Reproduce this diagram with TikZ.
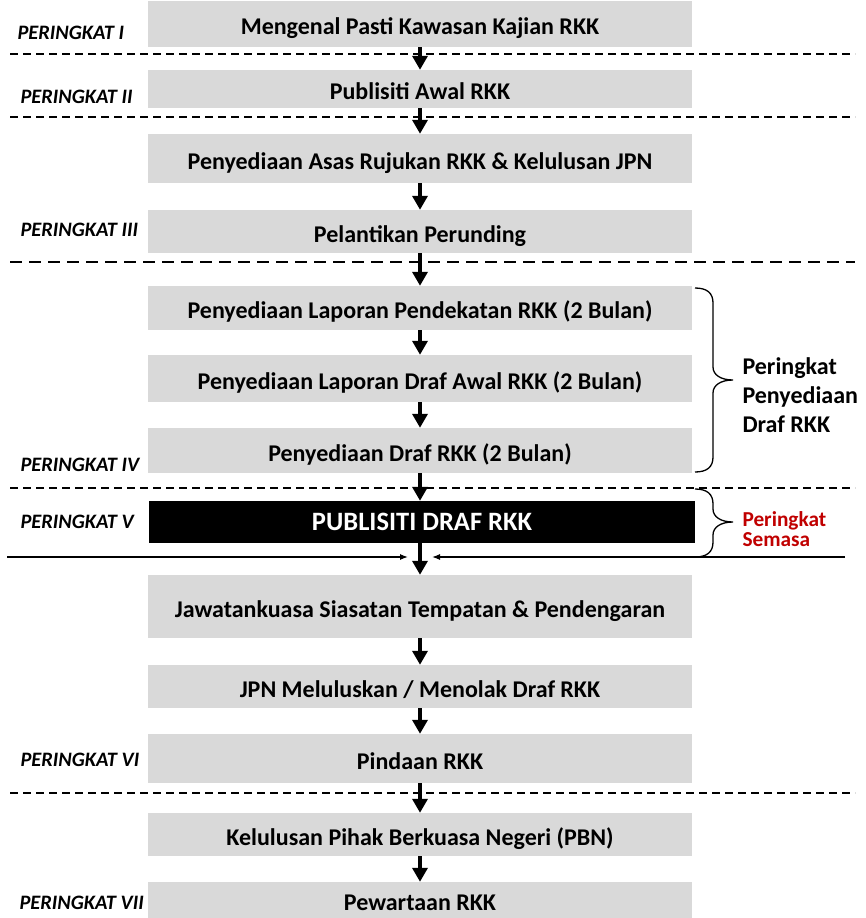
\documentclass[tikz,border=0pt]{standalone}
\usepackage{fontspec}
\setmainfont{Carlito}
\usetikzlibrary{arrows.meta}
\definecolor{boxgray}{RGB}{217,217,217}
\definecolor{semasared}{RGB}{192,0,0}

\newcommand{\sidebrace}[3]{%
  \draw[line width=1.3pt] (695,#1) .. controls (707,#1) and (713,#1+5) .. (713,#1+15) -- (713,#2-13)
    .. controls (713,#2-5) and (721,#2) .. (733,#2) .. controls (721,#2) and (713,#2+5) .. (713,#2+13)
    -- (713,#3-15) .. controls (713,#3-5) and (707,#3) .. (695,#3);}

\begin{document}
\begin{tikzpicture}[x=1pt,y=-1pt,
    stagebox/.style={fill=boxgray, minimum width=544pt, inner sep=0pt, text height=22pt, text depth=1pt,
                     font=\fontsize{24}{26}\selectfont\bfseries},
    lvltext/.style={anchor=west, font=\fontsize{20.5}{22}\selectfont\bfseries\itshape},
    flowarrow/.style={line width=4pt, -{Triangle[width=15pt,length=14pt]}},
    phaseline/.style={line width=1.2pt, dash pattern=on 8pt off 5pt},
    phasebold/.style={line width=2pt, dash pattern=on 12pt off 7pt},
    sidearrow/.style={line width=1.2pt, -{Latex[length=8pt,width=6pt]}}]
  \useasboundingbox (0,0) rectangle (866,918);

  \draw[phaseline] (10,54) -- (855,54);
  \draw[phaseline] (10,117) -- (855,117);
  \draw[phasebold] (10,262) -- (855,262);
  \draw[phaseline] (10,488) -- (855,488);
  \draw[phaseline] (10,793) -- (855,793);

  \node[stagebox, minimum height=46pt] (pasti) at (420,24) {Mengenal Pasti Kawasan Kajian RKK};
  \node[stagebox, minimum height=38pt] (awal) at (420,89) {Publisiti Awal RKK};
  \node[stagebox, minimum height=49pt] (asas) at (420,158.5) {Penyediaan Asas Rujukan RKK \& Kelulusan JPN};
  \node[stagebox, minimum height=43pt] (perunding) at (420,231.5) {Pelantikan Perunding};

  \node[stagebox, minimum height=44pt] (pendekatan) at (420,308) {Penyediaan Laporan Pendekatan RKK (2 Bulan)};
  \node[stagebox, minimum height=47pt] (drafawal) at (420,378.5) {Penyediaan Laporan Draf Awal RKK (2 Bulan)};
  \node[stagebox, minimum height=45pt] (draf) at (420,450.5) {Penyediaan Draf RKK (2 Bulan)};

  \node[fill=black, text=white, minimum width=546pt, minimum height=42pt, inner sep=0pt,
        font=\fontsize{26.5}{28}\selectfont\bfseries] (publisiti) at (422,522) {PUBLISITI DRAF RKK};

  \node[stagebox, minimum height=63pt] (jawatankuasa) at (420,606.5) {Jawatankuasa Siasatan Tempatan \& Pendengaran};
  \node[stagebox, minimum height=43pt] (lulus) at (420,686.5) {JPN Meluluskan / Menolak Draf RKK};
  \node[stagebox, minimum height=49pt] (pindaan) at (420,758.5) {Pindaan RKK};
  \node[stagebox, minimum height=43pt] (pbn) at (420,834.5) {Kelulusan Pihak Berkuasa Negeri (PBN)};
  \node[stagebox, minimum height=36pt] (pewartaan) at (420,900) {Pewartaan RKK};

  \node[lvltext] (lvlI) at (14,33) {PERINGKAT I};
  \node[lvltext] (lvlII) at (17,97) {PERINGKAT II};
  \node[lvltext] (lvlIII) at (17,230) {PERINGKAT III};
  \node[lvltext] (lvlIV) at (17,465) {PERINGKAT IV};
  \node[lvltext] (lvlV) at (17,522) {PERINGKAT V};
  \node[lvltext] (lvlVI) at (17,760) {PERINGKAT VI};
  \node[lvltext] (lvlVII) at (16,903) {PERINGKAT VII};

  \draw[flowarrow] (pasti) -- (awal);
  \draw[flowarrow] (awal) -- (asas);
  \draw[flowarrow] (asas) -- (perunding);
  \draw[flowarrow] (perunding) -- (pendekatan);
  \draw[flowarrow] (pendekatan) -- (drafawal);
  \draw[flowarrow] (drafawal) -- (draf);
  \draw[flowarrow] (draf.south) -- (draf.south |- publisiti.north);
  \draw[flowarrow] (draf.south |- publisiti.south) -- (jawatankuasa);
  \draw[flowarrow] (jawatankuasa) -- (lulus);
  \draw[flowarrow] (lulus) -- (pindaan);
  \draw[flowarrow] (pindaan) -- (pbn);
  \draw[flowarrow] (pbn) -- (pewartaan);

  \coordinate (leftend) at (7,557);
  \coordinate (lefttip) at (408,557);
  \coordinate (rightend) at (845,557);
  \coordinate (righttip) at (432,557);
  \draw[sidearrow] (leftend) -- (lefttip);
  \draw[sidearrow] (rightend) -- (righttip);

  \sidebrace{288}{380}{472}
  \sidebrace{489}{522}{557}

  \node[anchor=west, align=left, font=\fontsize{24}{29}\selectfont\bfseries] (penyediaan) at (739,395)
        {Peringkat\\Penyediaan\\Draf RKK};
  \node[anchor=west, align=left, text=semasared, font=\fontsize{21.3}{20}\selectfont\bfseries] (semasa) at (739,529)
        {Peringkat\\Semasa};
\end{tikzpicture}
\end{document}
